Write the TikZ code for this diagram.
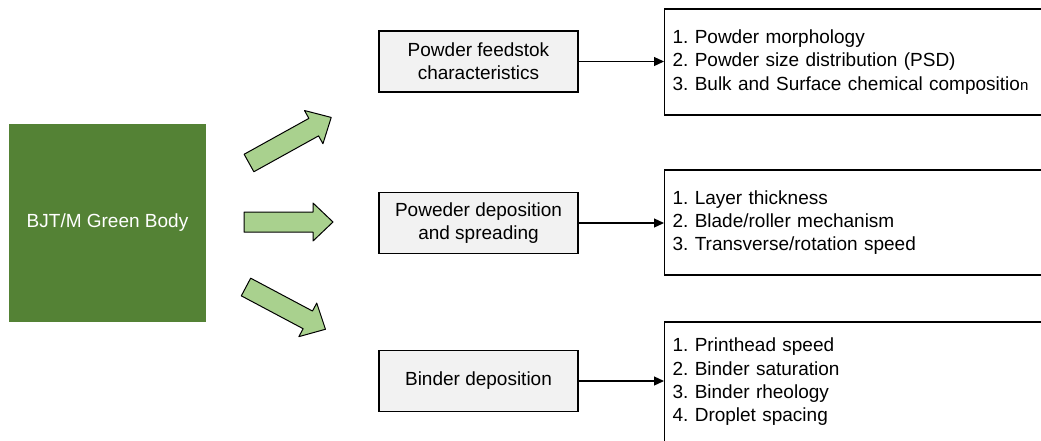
\documentclass[tikz,border=0pt]{standalone}
\usepackage{fontspec}
\setmainfont{Liberation Sans}
\usetikzlibrary{arrows.meta}
\definecolor{bodygreen}{HTML}{548235}
\definecolor{arrowgreen}{HTML}{A9D18E}
\definecolor{boxgray}{HTML}{F2F2F2}
\frenchspacing
\begin{document}
\begin{tikzpicture} [x = 1pt, y = -1pt, line width = 1.2pt,
  font = \fontsize{19}{23.3}\selectfont,
  bodybox/.style = {fill = bodygreen, text = white, minimum width = 197pt, minimum height = 198pt},
  stagebox/.style = {draw, fill = boxgray, align = center, minimum width = 199pt, minimum height = 61pt, inner sep = 0pt},
  listbox/.style = {draw, anchor = west, align = left, text width = 384pt, inner xsep = 8pt, minimum width = 400pt},
  link/.style = {-{Triangle[length = 10pt, width = 9pt]}}]
\clip (0,0) rectangle (1041,440);
% green body
\node[bodybox] (body) at (107.5,223) {BJT/M Green Body};
% block arrows
\foreach \x/\y/\a/\l in {249/163/29/94, 244/222/0/89, 246/287/-28/90}
  \draw[line width = 1pt, line join = round, fill = arrowgreen, shift = {(\x,\y)}, rotate = \a]
    (0,10) -- (\l-20,10) -- (\l-20,19) -- (\l,0) -- (\l-20,-19) -- (\l-20,-10) -- (0,-10) -- cycle;
% stages
\node[stagebox] (feed) at (478.5,61.5) {Powder feedstok\\characteristics};
\node[stagebox] (spread) at (478.5,223) {Poweder deposition\\and spreading};
\node[stagebox] (binder) at (478.5,381) {Binder deposition};
% parameter lists
\node[listbox, minimum height = 106pt] (feedlist) at (664,62) {1. Powder morphology\\2. Powder size distribution (PSD)\\3. Bulk and Surface chemical compositio{\fontsize{15}{23.3}\selectfont n}};
\node[listbox, minimum height = 105pt] (spreadlist) at (664,222.5) {1. Layer thickness\\2. Blade/roller mechanism\\3. Transverse/rotation speed};
\node[listbox, minimum height = 120pt] (binderlist) at (664,382) {1. Printhead speed\\2. Binder saturation\\3. Binder rheology\\4. Droplet spacing};
% links
\draw[link] (feed.east) -- (feedlist.west |- feed.east);
\draw[link] (spread.east) -- (spreadlist.west |- spread.east);
\draw[link] (binder.east) -- (binderlist.west |- binder.east);
\end{tikzpicture}
\end{document}
